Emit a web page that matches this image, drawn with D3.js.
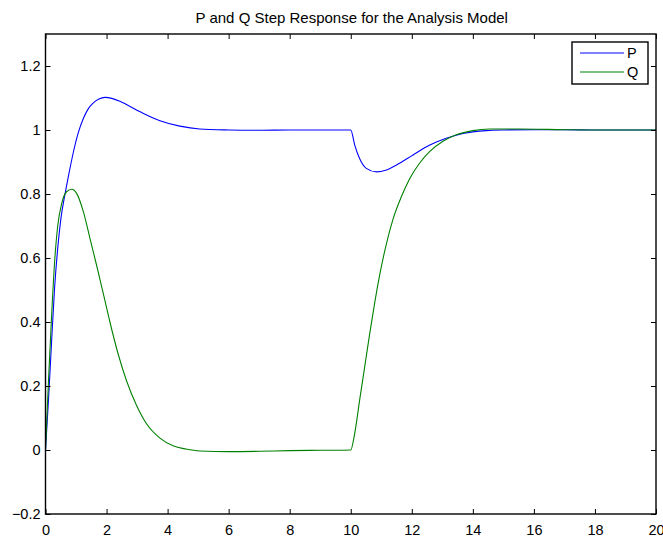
<!DOCTYPE html>
<html>
<head>
<meta charset="utf-8">
<script src="https://cdn.jsdelivr.net/npm/d3@7"></script>
<style>
  html, body { margin: 0; padding: 0; background: #fff; }
  svg { display: block; }
  text { font-family: "Liberation Sans", Arial, Helvetica, sans-serif; fill: #000; }
</style>
</head>
<body>
<svg id="chart" width="663" height="538"></svg>
<script>
// ---- data ----
const title = "P and Q Step Response for the Analysis Model";
const seriesNames = ["P", "Q"];
const seriesColors = ["#0000ff", "#008000"];

const timeP = [0, 0.1, 0.2, 0.3, 0.4, 0.5, 0.64, 0.75, 0.9, 1.07, 1.25, 1.4, 1.55, 1.75, 1.95, 2.2, 2.45, 3.1, 3.75, 4.4, 5.05, 6, 7, 8, 9, 10,
               10.13, 10.29, 10.51, 10.84, 11.17, 11.6, 12.04, 12.59, 13.13, 13.68, 14.44, 15, 16, 17, 18, 19, 20];
const valuesP = [0, 0.16, 0.34, 0.51, 0.63, 0.72, 0.80, 0.855, 0.925, 0.99, 1.038, 1.066, 1.083, 1.097, 1.102, 1.098, 1.089, 1.057, 1.029, 1.012, 1.003, 1.0, 0.999, 1.0, 1.0, 1.0,
                 0.953, 0.911, 0.880, 0.869, 0.875, 0.896, 0.922, 0.953, 0.974, 0.989, 0.998, 1.0, 1.001, 1.001, 1.0, 1.0, 1.0];

const timeQ = [0, 0.1, 0.2, 0.3, 0.4, 0.53, 0.69, 0.86, 1.02, 1.24, 1.46, 1.68, 1.89, 2.11, 2.38, 2.66, 2.98, 3.31, 3.75, 4.18, 4.6, 5.06, 6, 7, 8, 9, 10,
               10.13, 10.29, 10.46, 10.62, 10.79, 10.95, 11.17, 11.38, 11.66, 11.93, 12.26, 12.59, 13.02, 13.46, 14.0, 14.55, 15.5, 17, 18, 19, 20];
const valuesQ = [0, 0.22, 0.42, 0.59, 0.70, 0.77, 0.807, 0.815, 0.802, 0.745, 0.66, 0.575, 0.49, 0.40, 0.30, 0.215, 0.14, 0.082, 0.037, 0.013, 0.003, -0.003, -0.005, -0.004, -0.002, -0.001, 0,
                 0.052, 0.155, 0.262, 0.363, 0.463, 0.548, 0.645, 0.72, 0.792, 0.848, 0.897, 0.933, 0.965, 0.985, 0.998, 1.003, 1.003, 1.001, 1.0, 1.0, 1.0];

const xTicks = [0, 2, 4, 6, 8, 10, 12, 14, 16, 18, 20];
const yTicks = [-0.2, 0, 0.2, 0.4, 0.6, 0.8, 1, 1.2];
const xDomain = [0, 20];
const yDomain = [-0.2, 1.3];

// ---- layout ----
const svg = d3.select("#chart");
const L = 45.5, R = 656, T = 34, B = 514;
const x = d3.scaleLinear().domain(xDomain).range([L, R]);
const y = d3.scaleLinear().domain(yDomain).range([B, T]);
const tickLen = 5;
const fs = 14.5;

// lines
const series = [
  { t: timeP, v: valuesP },
  { t: timeQ, v: valuesQ }
];
const line = d3.line().x(d => x(d[0])).y(d => y(d[1])).curve(d3.curveMonotoneX);
svg.append("clipPath").attr("id", "clip").append("rect")
  .attr("x", L).attr("y", T).attr("width", R - L).attr("height", B - T);
series.forEach((s, i) => {
  svg.append("path")
    .datum(s.t.map((t, j) => [t, s.v[j]]))
    .attr("d", line)
    .attr("fill", "none")
    .attr("stroke", seriesColors[i])
    .attr("stroke-width", 1.1)
    .attr("clip-path", "url(#clip)");
});

// axes (inward ticks, box)
const fmt = d => (d < 0 ? "\u2212" + Math.abs(d) : String(d));
const gx = svg.append("g").attr("transform", `translate(0,${B})`)
  .call(d3.axisBottom(x).tickValues(xTicks).tickSizeInner(-tickLen).tickSizeOuter(0).tickPadding(11).tickFormat(fmt));
const gxt = svg.append("g").attr("transform", `translate(0,${T})`)
  .call(d3.axisTop(x).tickValues(xTicks).tickSizeInner(-tickLen).tickSizeOuter(0).tickFormat(""));
const gy = svg.append("g").attr("transform", `translate(${L},0)`)
  .call(d3.axisLeft(y).tickValues(yTicks).tickSizeInner(-tickLen).tickSizeOuter(0).tickPadding(5).tickFormat(fmt));
const gyr = svg.append("g").attr("transform", `translate(${R},0)`)
  .call(d3.axisRight(y).tickValues(yTicks).tickSizeInner(-tickLen).tickSizeOuter(0).tickFormat(""));
[gx, gxt, gy, gyr].forEach(g => {
  g.select(".domain").remove();
  g.selectAll(".tick line").attr("stroke", "#000").attr("stroke-width", 1);
  g.selectAll("text").attr("font-size", fs).attr("font-family", "Liberation Sans, Arial, sans-serif").attr("fill", "#000");
});
svg.append("rect").attr("x", L).attr("y", T).attr("width", R - L).attr("height", B - T)
  .attr("fill", "none").attr("stroke", "#000").attr("stroke-width", 1.4);

// title
svg.append("text").attr("x", (L + R) / 2 + 1).attr("y", 23).attr("text-anchor", "middle")
  .attr("font-size", 15).text(title);

// legend
const lg = svg.append("g");
lg.append("rect").attr("x", 572).attr("y", 42).attr("width", 76).attr("height", 42)
  .attr("fill", "#fff").attr("stroke", "#000").attr("stroke-width", 1.4);
seriesNames.forEach((n, i) => {
  const yy = 53 + i * 19;
  lg.append("line").attr("x1", 580).attr("x2", 624).attr("y1", yy).attr("y2", yy)
    .attr("stroke", seriesColors[i]).attr("stroke-width", 1.1);
  lg.append("text").attr("x", 627).attr("y", yy).attr("dy", "0.36em").attr("font-size", fs).text(n);
});
</script>
</body>
</html>
